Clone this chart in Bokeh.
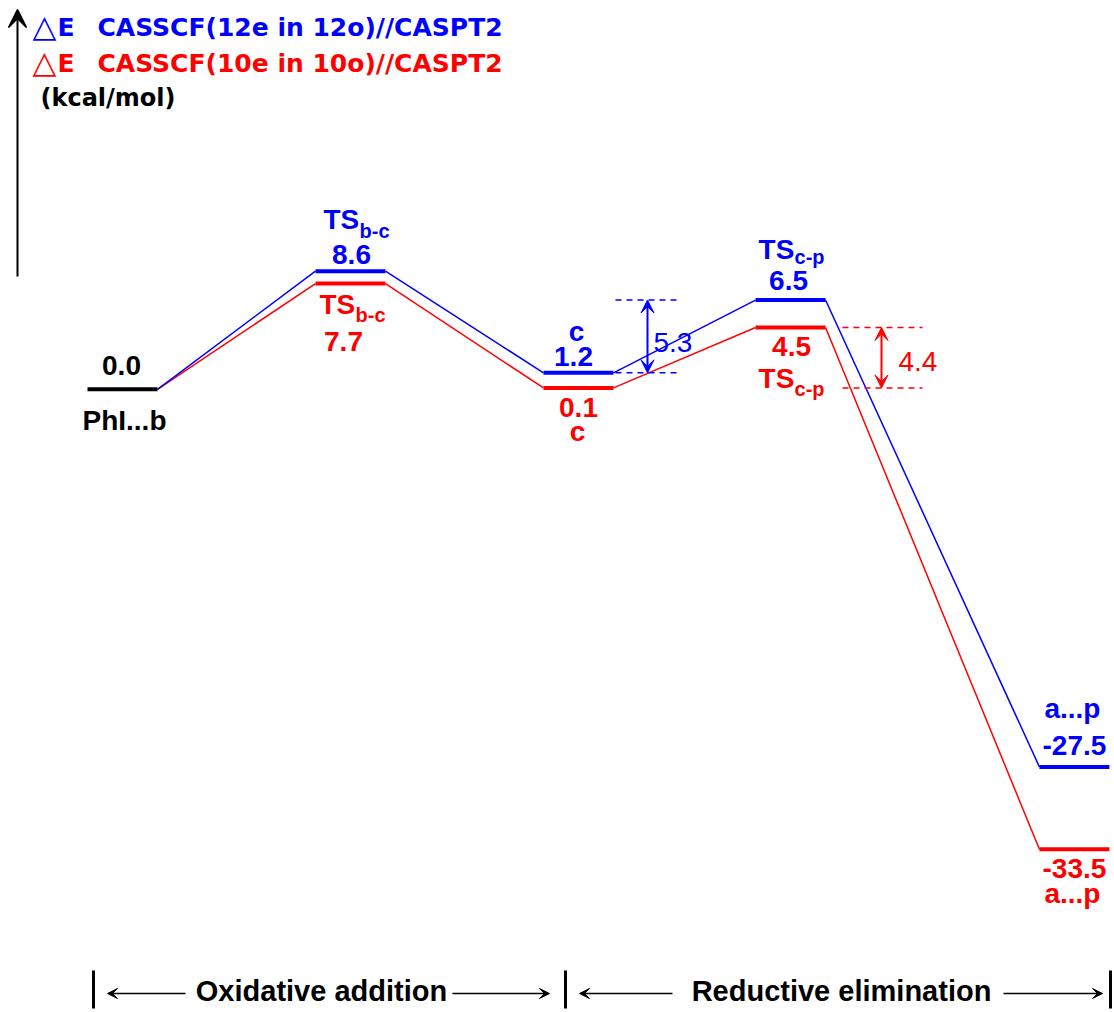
from bokeh.plotting import figure
from bokeh.models import Range1d, Arrow, VeeHead, ColumnDataSource
from bokeh.embed import file_html
from bokeh.resources import INLINE
from bokeh.core.properties import value

# ---------------- data (kcal/mol) ----------------
stage_names = ["PhI...b", "TS", "c", "TS", "a...p"]
stage_subs = ["", "b-c", "", "c-p", ""]
e_blue = [0.0, 8.6, 1.2, 6.5, -27.5]   # CASSCF(12e in 12o)//CASPT2
e_red = [0.0, 7.7, 0.1, 4.5, -33.5]    # CASSCF(10e in 10o)//CASPT2
title_blue = "CASSCF(12e in 12o)//CASPT2"
title_red = "CASSCF(10e in 10o)//CASPT2"
unit_label = "(kcal/mol)"
phases = ["Oxidative addition", "Reductive elimination"]

# ---------------- layout ----------------
W, H = 1114, 1012
X_PX0, X_SCALE = 122.0, 228.0     # pixel of rc=0, pixels per rc unit
Y_PX0, Y_SCALE = 388.8, 13.73     # pixel of E=0, pixels per kcal/mol


def dx(px):
    return (px - X_PX0) / X_SCALE


def dy(py):
    return (Y_PX0 - py) / Y_SCALE


stage_x = [0.0, 1.0, 2.0, 2.93, 4.175]
HW = 35.0 / X_SCALE

BLUE, RED, BLACK = "#0000ff", "#ff0000", "#000000"

p = figure(width=W, height=H, x_range=Range1d(dx(0), dx(W)), y_range=Range1d(dy(H), dy(0)),
           output_backend="svg", toolbar_location=None, min_border=0,
           x_axis_location=None, y_axis_location=None, outline_line_color=None,
           background_fill_color="white", border_fill_color="white")
p.grid.visible = False


def connectors(e, color):
    x0 = [stage_x[i] + HW for i in range(len(e) - 1)]
    x1 = [stage_x[i + 1] - HW for i in range(len(e) - 1)]
    p.segment(x0=x0, y0=e[:-1], x1=x1, y1=e[1:], line_color=color, line_width=1.5)


def levels(idx, e, color):
    p.segment(x0=[stage_x[i] - HW for i in idx], y0=[e[i] for i in idx],
              x1=[stage_x[i] + HW for i in idx], y1=[e[i] for i in idx],
              line_color=color, line_width=4, line_cap="butt")


connectors(e_red, RED)
connectors(e_blue, BLUE)
levels([0], e_blue, BLACK)
levels([1, 2, 3, 4], e_red, RED)
levels([1, 2, 3, 4], e_blue, BLUE)


def add_text(xs, ys, texts, color, size, xo, yo, align="center", style="bold", font="Liberation Sans"):
    # yo: wanted baseline offset in px (down positive); correct for renderer baseline shift
    yo = [v - 0.39 * size for v in yo]
    src = ColumnDataSource(dict(x=xs, y=ys, t=texts, xo=xo, yo=yo))
    p.text(x="x", y="y", text="t", x_offset="xo", y_offset="yo", source=src,
           text_color=color, text_font=value(font), text_font_size=f"{size}px",
           text_font_style=style, text_align=align, text_baseline="alphabetic")


LBL = 28
SUB = 20

# stage 0 (common reference)
add_text([stage_x[0]], [e_blue[0]], [f"{e_blue[0]:.1f}"], BLACK, LBL, [-1], [-13])
add_text([stage_x[0]], [e_blue[0]], [stage_names[0]], BLACK, LBL, [2], [42])

# blue values above
bi = [1, 2, 3, 4]
add_text([stage_x[i] for i in bi], [e_blue[i] for i in bi], [f"{e_blue[i]:.1f}" for i in bi],
         BLUE, LBL, [1, -5, -2, 0], [-6, -5, -9, -10])
# blue names above
add_text([stage_x[2], stage_x[4]], [e_blue[2], e_blue[4]], [stage_names[2], stage_names[4]],
         BLUE, LBL, [-2, -2], [-30, -47])
add_text([stage_x[1], stage_x[3]], [e_blue[1], e_blue[3]], [stage_names[1], stage_names[3]],
         BLUE, LBL, [-27, -32], [-41, -40], align="left")
add_text([stage_x[1], stage_x[3]], [e_blue[1], e_blue[3]], [stage_subs[1], stage_subs[3]],
         BLUE, SUB, [9, 4], [-32, -35], align="left")

# red values below
add_text([stage_x[i] for i in bi], [e_red[i] for i in bi], [f"{e_red[i]:.1f}" for i in bi],
         RED, LBL, [-7, 0, 1, 0], [69, 30, 30, 30])
add_text([stage_x[2], stage_x[4]], [e_red[2], e_red[4]], [stage_names[2], stage_names[4]],
         RED, LBL, [-1, -2], [54, 55])
add_text([stage_x[1], stage_x[3]], [e_red[1], e_red[3]], [stage_names[1], stage_names[3]],
         RED, LBL, [-31, -32], [32, 62], align="left")
add_text([stage_x[1], stage_x[3]], [e_red[1], e_red[3]], [stage_subs[1], stage_subs[3]],
         RED, SUB, [5, 4], [39, 69], align="left")


# ---------------- barrier annotations ----------------
def barrier(e, lo, hi, xa, xb, xarrow, color, xo, yo):
    p.segment(x0=[xa, xa], y0=[e[hi], e[lo]], x1=[xb, xb], y1=[e[hi], e[lo]],
              line_color=color, line_width=1.5, line_dash="6 5")
    p.add_layout(Arrow(start=VeeHead(size=13, fill_color=color, line_color=color),
                       end=VeeHead(size=13, fill_color=color, line_color=color),
                       x_start=xarrow, y_start=e[lo], x_end=xarrow, y_end=e[hi],
                       line_color=color, line_width=2))
    add_text([xarrow], [(e[hi] + e[lo]) / 2], [f"{e[hi] - e[lo]:.1f}"], color, 28,
             [xo], [yo], align="left", style="normal")


barrier(e_blue, 2, 3, dx(615), dx(678), dx(647), BLUE, 6, 17)
barrier(e_red, 2, 3, dx(842), dx(922), dx(881), RED, 17, 15)

# ---------------- energy axis arrow ----------------
p.add_layout(Arrow(end=VeeHead(size=18, fill_color=BLACK, line_color=BLACK, line_width=1.5),
                   x_start=dx(17), y_start=dy(276), x_end=dx(17), y_end=dy(9),
                   line_color=BLACK, line_width=2))

# ---------------- title / legend ----------------
TF = "DejaVu Sans"
for col, base, txt in [(BLUE, 37, title_blue), (RED, 73, title_red)]:
    add_text([dx(32)], [dy(base)], ["\u25b3"], col, 31, [0], [1], align="left", font=TF, style="normal")
    add_text([dx(57)], [dy(base)], ["E"], col, 25, [0], [0], align="left", font=TF)
    add_text([dx(97)], [dy(base)], [txt], col, 25, [0], [0], align="left", font=TF)
add_text([dx(40)], [dy(107)], [unit_label], BLACK, 24, [0], [0], align="left", font=TF)

# ---------------- reaction phases ----------------
bars = [93, 565, 1110]
p.segment(x0=[dx(b) for b in bars], y0=[dy(970)] * 3, x1=[dx(b) for b in bars], y1=[dy(1008)] * 3,
          line_color=BLACK, line_width=3)
add_text([dx(321), dx(841)], [dy(1002), dy(1002)], phases, BLACK, 29, [0, 0], [0, 0])
ya = dy(993)
for xs, xe in [(185, 107), (452, 549), (672, 579), (1003, 1102)]:
    p.add_layout(Arrow(end=VeeHead(size=10, fill_color=BLACK, line_color=BLACK),
                       x_start=dx(xs), y_start=ya, x_end=dx(xe), y_end=ya,
                       line_color=BLACK, line_width=1.5))

open("out.html", "w").write(file_html(p, INLINE))
